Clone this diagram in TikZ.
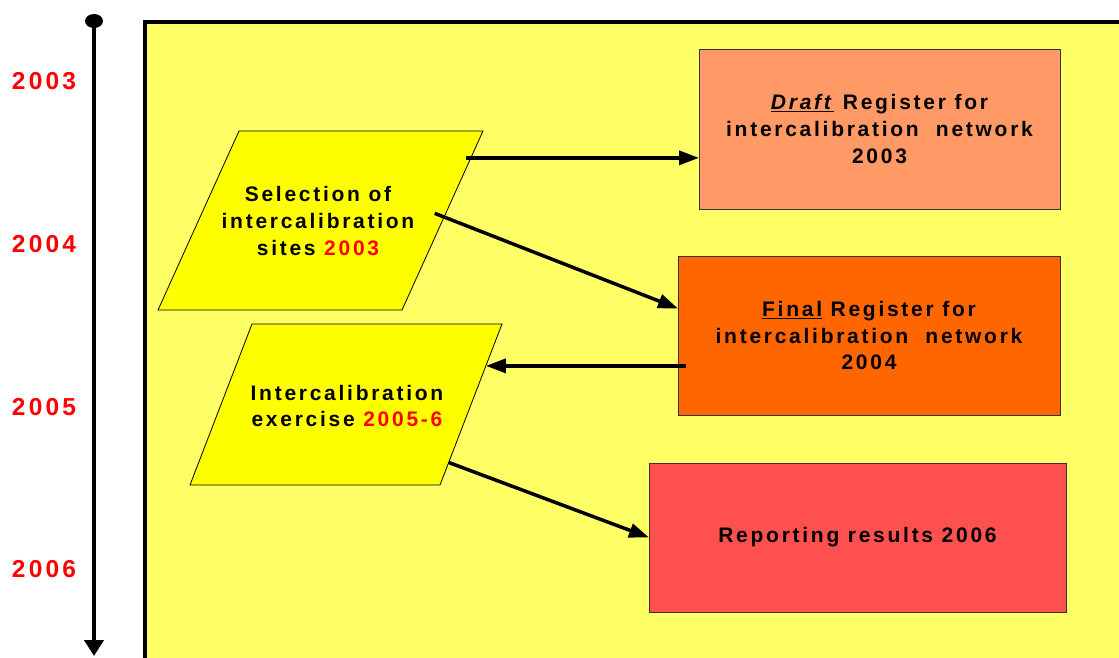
\documentclass[tikz,border=0pt]{standalone}
\usepackage{fontspec}
\setmainfont{Liberation Sans}[LetterSpace=13]
\usetikzlibrary{arrows.meta,calc,positioning}

\definecolor{paleyellow}{HTML}{FFFF66}
\definecolor{siteyellow}{HTML}{FFFF00}
\definecolor{draftorange}{HTML}{FF9966}
\definecolor{finalorange}{HTML}{FF6600}
\definecolor{reportred}{HTML}{FF5050}

\newcommand{\boxfont}{\fontsize{21}{26.8}\selectfont\bfseries}
\newcommand{\yearfont}{\fontsize{24.5}{28}\selectfont\bfseries}

\tikzset{
  regbox/.style={draw=black!80, line width=0.8pt, align=center, font=\boxfont,
    inner sep=0pt, outer sep=0pt},
  siteshape/.style={draw=black, line width=0.8pt, fill=siteyellow},
  sitetext/.style={align=center, font=\boxfont, inner sep=0pt},
  year/.style={text=red, font=\yearfont},
  flow/.style={line width=3.5pt, -{Triangle[length=20pt,width=14pt]}},
}

\begin{document}
\begin{tikzpicture}[x=1pt,y=-1pt]
    \useasboundingbox (0,0) rectangle (1119,657);
    \clip (0,0) rectangle (1119,657);

    % Background panel
    \draw[line width=4pt, fill=paleyellow] (145,22) rectangle (1140,680);

    % Time axis
    \fill (94,21) ellipse [x radius=9, y radius=7];
    \draw[line width=4pt, -{Triangle[length=16pt,width=19pt]}] (94,21) -- (94,656);

    % Years
    \node[year] (y2003) at (44,81) {2003};
    \node[year] (y2004) at (44,244) {2004};
    \node[year] (y2005) at (44,407) {2005};
    \node[year] (y2006) at (44,569) {2006};

    % Site steps (parallelograms)
    \coordinate (sel tl) at (239,131);
    \coordinate (sel tr) at (483,131);
    \coordinate (sel br) at (402,310);
    \coordinate (sel bl) at (158,310);
    \draw[siteshape] (sel tl) -- (sel tr) -- (sel br) -- (sel bl) -- cycle;
    \node[sitetext] (sel) at (318,221)
          {Selection of\\intercalibration\\sites \textcolor{red}{2003}};

    \coordinate (exer tl) at (252,324);
    \coordinate (exer tr) at (502,324);
    \coordinate (exer br) at (440,485);
    \coordinate (exer bl) at (190,485);
    \draw[siteshape] (exer tl) -- (exer tr) -- (exer br) -- (exer bl) -- cycle;
    \node[sitetext] (exer) at (347,406)
          {Intercalibration\\exercise \textcolor{red}{2005-6}};

    % Register steps
    \node[regbox, fill=draftorange, minimum width=361, minimum height=160]
          (draft) at (879.5,129)
          {\underline{\textit{Draft}} Register for\\intercalibration\ \ network\\2003};
    \node[regbox, fill=finalorange, minimum width=382, minimum height=159]
          (final) at (869,335.5)
          {\underline{Final} Register for\\intercalibration\ \ network\\2004};
    \node[regbox, fill=reportred, minimum width=417, minimum height=149]
          (report) at (857.5,537.5)
          {Reporting results 2006};

    % Arrows
    \coordinate (s1) at ($(sel tr)!0.15!(sel br)+(-5,0)$);
    \coordinate (s2) at ($(sel tr)!0.46!(sel br)+(-11,0)$);
    \coordinate (e1) at ($(exer tr)!0.26!(exer br)$);
    \coordinate (e2) at ($(exer tr)!0.86!(exer br)$);

    \draw[flow] (s1) -- (s1 -| draft.west);
    \draw[flow] (s2) -- ($(final.north west)!0.33!(final.south west)$);
    \draw[flow] ([xshift=8pt]e1 -| final.west) -- (e1);
    \draw[flow] (e2) -- (report.west);
\end{tikzpicture}
\end{document}
